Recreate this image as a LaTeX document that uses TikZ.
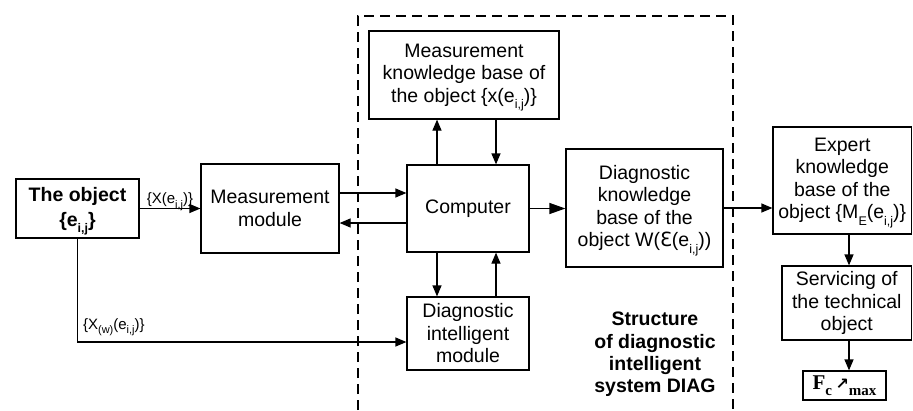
\documentclass[tikz,border=0pt]{standalone}
\usepackage{fontspec}
\setmainfont{Liberation Sans}
\newfontfamily\dejavu{DejaVu Sans}
\newfontfamily\timesf{Liberation Serif}
\usetikzlibrary{arrows.meta}
\newcommand\sbs[1]{\raisebox{-0.32em}[0pt][0pt]{\fontsize{12.5}{12.5}\selectfont #1}}
\newcommand\sbss[1]{\raisebox{-0.3em}[0pt][0pt]{\fontsize{11}{11}\selectfont #1}}
\begin{document}
\begin{tikzpicture}[x=1pt,y=-1pt,
 box/.style={draw, line width=1.2pt, inner sep=0pt, align=center, font=\fontsize{19.5}{22.5}\selectfont},
 arr/.style={line width=1.2pt, -{Triangle[length=11pt,width=9pt]}},
 bigarr/.style={line width=1.2pt, -{Triangle[length=16pt,width=11pt]}},
 lbl/.style={font=\fontsize{15}{16}\selectfont, inner sep=1pt},
 frame/.style={line width=1.2pt, dash pattern=on 10pt off 6pt}]
\useasboundingbox (0,0) rectangle (913,410);
% dashed frame of the DIAG system
\draw[frame] (358,410) -- (358,16) -- (733,16) -- (733,410);
% boxes
\node[box, minimum width=123pt, minimum height=59pt, font=\fontsize{19.5}{25}\selectfont\bfseries] (obj) at (77.5,208.5) {The object\\\{e\sbs{i,j}\}};
\node[box, minimum width=138pt, minimum height=89pt] (meas) at (270,208.5) {Measurement\\module};
\node[box, minimum width=190pt, minimum height=88pt] (mkb) at (464,75) {Measurement\\knowledge base of\\the object \{x(e\sbs{i,j})\}};
\node[box, minimum width=122pt, minimum height=87pt] (comp) at (468,208.5) {Computer};
\node[box, minimum width=122pt, minimum height=73pt] (dim) at (468,333.5) {Diagnostic\\intelligent\\module};
\node[box, minimum width=157pt, minimum height=118pt] (dkb) at (644.5,208) {Diagnostic\\knowledge\\base of the\\object W({\dejavu Ɛ}(e\sbs{i,j}))};
\node[box, minimum width=138.5pt, minimum height=107pt] (ekb) at (842.25,180.5) {Expert\\knowledge\\base of the\\object \{M\sbs{E}(e\sbs{i,j})\}};
\node[box, minimum width=129.5pt, minimum height=74pt] (serv) at (846.75,303) {Servicing of\\the technical\\object};
\node[box, minimum width=83pt, minimum height=29pt, font=\timesf\bfseries\fontsize{21}{21}\selectfont] (fc) at (844.5,385.5) {F\raisebox{-0.3em}{\fontsize{15}{15}\selectfont c}\,{\dejavu\fontsize{16}{16}\selectfont ↗}\raisebox{-0.3em}{\fontsize{15}{15}\selectfont max}};
\node[font=\fontsize{19.5}{22.3}\selectfont\bfseries, align=center] (title) at (655,354.5) {Structure\\of diagnostic\\intelligent\\system DIAG};
% connectors
\draw[arr] (obj) -- node[lbl, above] {\{X(e\sbss{i,j})\}} (meas);
\draw[arr] ([yshift=15.5pt]meas.east) -- ([yshift=15.5pt]comp.west);
\draw[arr] ([yshift=-14.5pt]comp.west) -- ([yshift=-14.5pt]meas.east);
\draw[arr] ([xshift=-31pt]comp.north) -- ([xshift=-31pt]comp.north |- mkb.south);
\draw[arr] ([xshift=28pt]comp.north |- mkb.south) -- ([xshift=28pt]comp.north);
\draw[arr] ([xshift=-31pt]comp.south) -- ([xshift=-31pt]comp.south |- dim.north);
\draw[arr] ([xshift=28pt]comp.south |- dim.north) -- ([xshift=28pt]comp.south);
\draw[bigarr] (comp.east) -- (comp.east -| dkb.west);
\draw[arr] (dkb.east) -- (dkb.east -| ekb.west);
\coordinate (ax) at (849,0);
\draw[arr] (ekb.south -| ax) -- (serv.north -| ax);
\draw[arr] (serv.south -| ax) -- (fc.north -| ax);
\draw[arr] (obj.south) |- node[pos=0.5, lbl, anchor=south west, xshift=4pt, yshift=8pt] {\{X\sbss{(w)}(e\sbss{i,j})\}} ([yshift=-8.5pt]dim.west);
\end{tikzpicture}
\end{document}
